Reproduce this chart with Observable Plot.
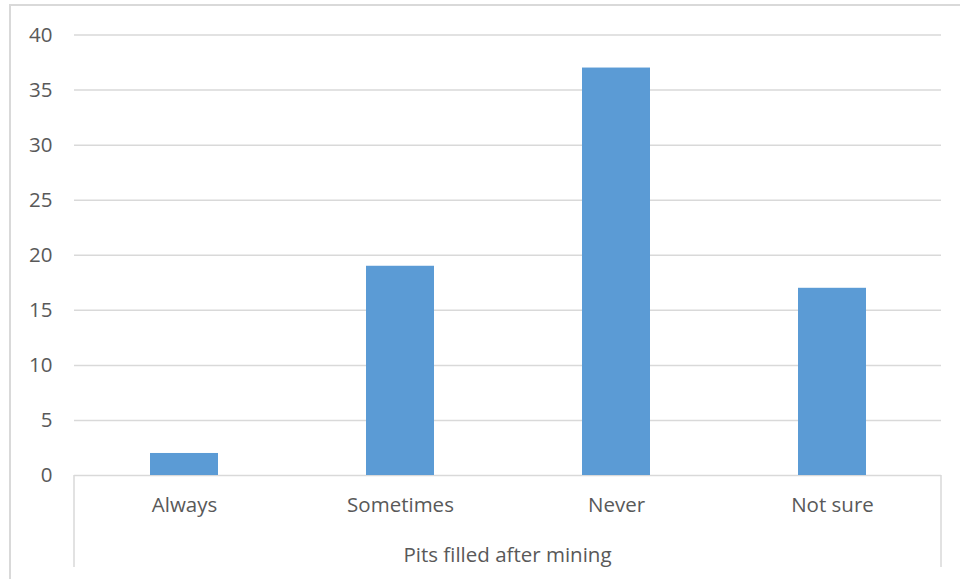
<!DOCTYPE html>
<html><head><meta charset="utf-8">
<script src="https://cdn.jsdelivr.net/npm/d3@7"></script>
<script src="https://cdn.jsdelivr.net/npm/@observablehq/plot@0.6"></script>
<style>
html,body{margin:0;padding:0;background:#fff;}
#wrap{position:relative;width:960px;height:579px;overflow:hidden;}
#border{position:absolute;left:9px;top:4px;width:960px;height:600px;border:2px solid #d9d9d9;box-sizing:border-box;}
#chart{position:absolute;left:0;top:0;}
</style></head>
<body><div id="wrap"><div id="border"></div><div id="chart"></div></div>
<script>
const categories = ["Always", "Sometimes", "Never", "Not sure"];
const values = [2, 19, 37, 17];
const yTicks = [0, 5, 10, 15, 20, 25, 30, 35, 40];
const axisTitle = "Pits filled after mining";

const data = categories.map((c, i) => ({category: c, value: values[i]}));
const font = "'Open Sans', sans-serif";
const grey = "#595959";
const fs = 20.5;

const plot = Plot.plot({
  width: 960, height: 579,
  marginLeft: 74, marginRight: 19, marginTop: 34.5, marginBottom: 104,
  style: {fontFamily: font, fontSize: fs + "px", color: grey, background: "transparent"},
  x: {domain: categories, padding: 0, label: null},
  y: {domain: [0, 40], ticks: yTicks, label: null},
  marks: [
    Plot.gridY(yTicks, {stroke: "#d9d9d9", strokeOpacity: 1, strokeWidth: 1.5}),
    Plot.barY(data, {x: "category", y: "value", fill: "#5b9bd5", insetLeft: 74, insetRight: 74}),
    Plot.axisY(yTicks, {tickSize: 0, tickPadding: 22, fill: grey, fontSize: fs}),
    Plot.axisX({tickSize: 0, tickPadding: 22, fill: grey, fontSize: fs, label: null})
  ]
});
document.getElementById("chart").appendChild(plot);

// category axis box lines and title, positioned from the plot's own scales
const xs = plot.scale("x"), ys = plot.scale("y");
const svg = d3.select(plot);
const y0 = ys.apply(0);
const g = svg.append("g");
[xs.range[0], xs.range[1]].forEach(x => {
  g.append("line").attr("x1", x).attr("x2", x).attr("y1", y0).attr("y2", y0 + 92)
    .attr("stroke", "#d9d9d9").attr("stroke-width", 1.5);
});
g.append("text").attr("x", (xs.range[0] + xs.range[1]) / 2).attr("y", y0 + 80)
  .attr("dy", "0.32em")
  .attr("text-anchor", "middle").attr("fill", grey)
  .style("font-family", font).style("font-size", fs + "px").text(axisTitle);
</script></body></html>
